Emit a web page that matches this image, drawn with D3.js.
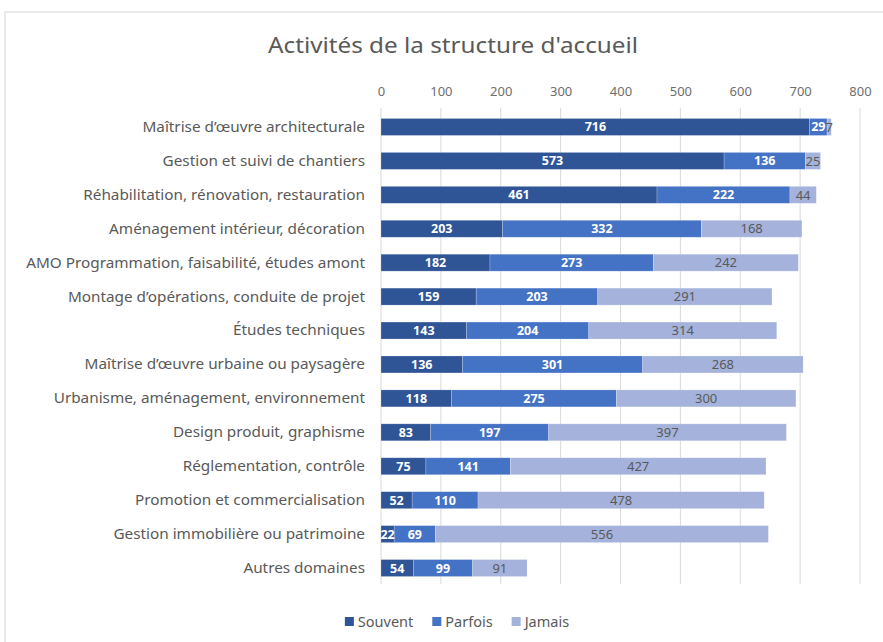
<!DOCTYPE html>
<html>
<head>
<meta charset="utf-8">
<script src="https://cdn.jsdelivr.net/npm/d3@7"></script>
<style>
    body { margin: 0; background: #ffffff; }
    svg { display: block; }
</style>
</head>
<body>
<div id="chart"></div>
<script>

const categories = [
    "Maîtrise d’œuvre architecturale",
    "Gestion et suivi de chantiers",
    "Réhabilitation, rénovation, restauration",
    "Aménagement intérieur, décoration",
    "AMO Programmation, faisabilité, études amont",
    "Montage d’opérations, conduite de projet",
    "Études techniques",
    "Maîtrise d’œuvre urbaine ou paysagère",
    "Urbanisme, aménagement, environnement",
    "Design produit, graphisme",
    "Réglementation, contrôle",
    "Promotion et commercialisation",
    "Gestion immobilière ou patrimoine",
    "Autres domaines"
];
const seriesNames = ["Souvent", "Parfois", "Jamais"];
const souvent = [716, 573, 461, 203, 182, 159, 143, 136, 118, 83, 75, 52, 22, 54];
const parfois = [29, 136, 222, 332, 273, 203, 204, 301, 275, 197, 141, 110, 69, 99];
const jamais = [7, 25, 44, 168, 242, 291, 314, 268, 300, 397, 427, 478, 556, 91];
const xTicks = [0, 100, 200, 300, 400, 500, 600, 700, 800];
const title = "Activités de la structure d'accueil";

const colors = ["#2f5597", "#4472c4", "#a5b3dc"];
const labelColors = ["#ffffff", "#ffffff", "#595959"];

class StackedBarView {
    constructor(container) {
        this.container = container;
        this.width = 883;
        this.height = 642;
        this.margin = { left: 381, right: 23, top: 108, bottom: 58 };
    }

    render() {
        const svg = d3.select("#" + this.container)
            .append("svg")
            .attr("width", this.width)
            .attr("height", this.height)

        // frame of the chart area
        svg.append("rect")
            .attr("x", 5)
            .attr("y", 12)
            .attr("width", 950)
            .attr("height", 700)
            .style("fill", "#ffffff")
            .style("stroke", "#e3e3e3")
            .style("stroke-width", 1.5)

        svg.append("text")
            .attr("x", 453)
            .attr("y", 53)
            .attr("text-anchor", "middle")
            .attr("textLength", 370)
            .attr("lengthAdjust", "spacingAndGlyphs")
            .style("font-family", "'Noto Sans', sans-serif")
            .style("font-size", "22px")
            .style("fill", "#595959")
            .text(title)

        const x = d3.scaleLinear()
            .domain([0, 800])
            .range([this.margin.left, this.width - this.margin.right])

        const y = d3.scaleBand()
            .domain(categories)
            .range([this.margin.top + 2, this.height - this.margin.bottom + 1])
            .paddingInner(0.5)
            .paddingOuter(0.25)

        // gridlines
        svg.append("g")
            .selectAll("line")
            .data(xTicks)
            .join("line")
            .attr("x1", d => x(d))
            .attr("x2", d => x(d))
            .attr("y1", this.margin.top)
            .attr("y2", this.height - this.margin.bottom)
            .style("stroke", "#d9d9d9")
            .style("stroke-width", 1)

        // top axis labels
        const xAxis = svg.append("g")
            .attr("transform", `translate(0, ${this.margin.top - 12})`)
            .call(d3.axisTop(x).tickValues(xTicks).tickSize(0).tickPadding(0))
        xAxis.select(".domain").remove()
        xAxis.selectAll("text")
            .style("font-family", "'Noto Sans', sans-serif")
            .style("font-size", "13px")
            .style("fill", "#6e6e6e")

        // category labels
        const yAxis = svg.append("g")
            .attr("transform", `translate(${this.margin.left - 16}, 0)`)
            .call(d3.axisLeft(y).tickSize(0).tickPadding(0))
        yAxis.select(".domain").remove()
        yAxis.selectAll("text")
            .style("font-family", "'Noto Sans', sans-serif")
            .style("font-size", "15.3px")
            .style("fill", "#595959")

        const table = categories.map((c, i) => ({
            category: c, Souvent: souvent[i], Parfois: parfois[i], Jamais: jamais[i]
        }));
        const stacked = d3.stack().keys(seriesNames)(table);

        const layers = svg.append("g")
            .selectAll("g")
            .data(stacked)
            .join("g")
            .style("fill", (d, i) => colors[i])

        layers.selectAll("rect")
            .data(d => d)
            .join("rect")
            .attr("x", d => x(d[0]))
            .attr("y", d => y(d.data.category))
            .attr("width", d => x(d[1]) - x(d[0]))
            .attr("height", y.bandwidth())
            .style("stroke", "#ffffff")
            .style("stroke-opacity", 0.35)
            .style("stroke-width", 0.6)

        // value labels
        stacked.forEach((layer, i) => {
            svg.append("g")
                .selectAll("text")
                .data(layer)
                .join("text")
                .attr("x", d => (x(d[0]) + x(d[1])) / 2)
                .attr("y", d => y(d.data.category) + y.bandwidth() / 2)
                .attr("dy", "0.36em")
                .attr("text-anchor", "middle")
                .style("font-family", "'Noto Sans', sans-serif")
                .style("font-size", i < 2 ? "12.5px" : "13px")
                .style("font-weight", i < 2 ? "bold" : "normal")
                .style("fill", labelColors[i])
                .text(d => d[1] - d[0])
        });

        this.renderLegend(svg);
    }

    renderLegend(svg) {
        const legend = svg.append("g")
            .attr("transform", "translate(0, 622)")
        const items = legend.selectAll("g")
            .data(seriesNames)
            .join("g")
        items.append("rect")
            .attr("y", -5)
            .attr("width", 9)
            .attr("height", 9)
            .style("fill", (d, i) => colors[i])
        items.append("text")
            .attr("x", 13)
            .attr("dy", "0.35em")
            .style("font-family", "'Noto Sans', sans-serif")
            .style("font-size", "14.5px")
            .style("fill", "#595959")
            .text(d => d)

        // lay the items out next to each other, centred
        let offset = 0;
        const widths = [];
        items.each(function () {
            const w = 13 + d3.select(this).select("text").node().getComputedTextLength();
            widths.push(w);
        });
        const gap = 19;
        const total = d3.sum(widths) + gap * (widths.length - 1);
        let start = 457 - total / 2;
        items.attr("transform", (d, i) => {
            const pos = start + offset;
            offset += widths[i] + gap;
            return `translate(${pos}, 0)`;
        })
    }
}

const view = new StackedBarView("chart");
view.render();
</script>
</body>
</html>
